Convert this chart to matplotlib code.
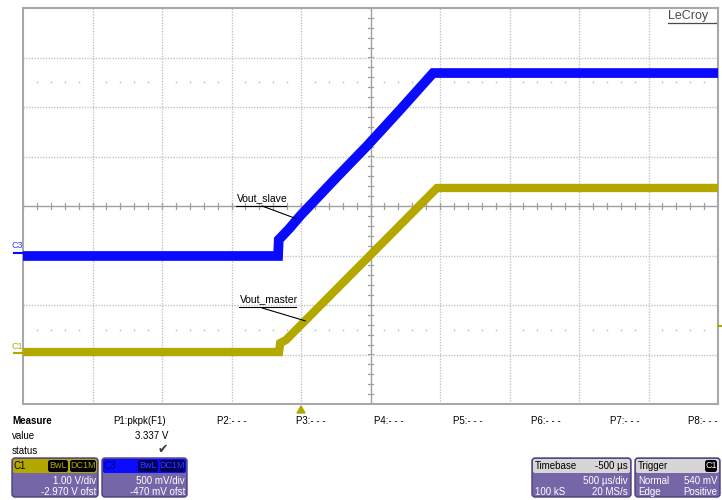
import numpy as np
import matplotlib.pyplot as plt
from matplotlib.patches import FancyBboxPatch, Polygon

plt.rcParams['font.family'] = ['Liberation Sans', 'DejaVu Sans']

# ---- data (time in ms, volts) ----
# C3 = Vout_slave
c3_t = [-2.0, -0.165, -0.160, -0.129, -0.079, -0.007, 0.245, 0.475, 0.712, 0.950, 3.0]
c3_v = [-0.035, -0.035, 0.130, 0.175, 0.250, 0.369, 0.743, 1.077, 1.440, 1.813, 1.813]
# C1 = Vout_master
c1_t = [-2.0, -0.158, -0.150, -0.108, 0.978, 3.0]
c1_v = [0.02, 0.02, 0.200, 0.263, 3.334, 3.334]

# channel / timebase settings
c1_vdiv, c1_ofst = 1.00, -2.970
c3_vdiv, c3_ofst = 0.500, -0.470
t_div, t_delay = 0.5, -0.5          # ms
trig_level = 0.540                   # V on C1

meas_labels = ["P1:pkpk(F1)", "P2:- - -", "P3:- - -", "P4:- - -", "P5:- - -",
               "P6:- - -", "P7:- - -", "P8:- - -"]
meas_value = "3.337 V"

YEL = "#b3a800"
BLU = "#0a0aff"
BOX = "#7566a8"
EDGE = "#4b3f7e"
GRID = "#c4c4c4"
AXC = "#a0a0a0"

fig = plt.figure(figsize=(7.22, 5.0), dpi=100)
ax = fig.add_axes([23 / 722, 96 / 500, 695 / 722, 396 / 500])

# screen center is at -delay, 10 divisions wide
t_center = -t_delay
t_left = t_center - 5 * t_div
t_right = t_center + 5 * t_div
ax.set_xlim(t_left, t_right)
ax.set_ylim(-4, 4)

# grid
for k in range(1, 10):
    tx = t_left + k * t_div
    if k == 5:
        ax.axvline(tx, color=AXC, lw=1.0, zorder=1)
    else:
        ax.axvline(tx, color=GRID, lw=1.0, ls=(0, (1, 1)), zorder=1)
for k in range(-3, 4):
    if k == 0:
        ax.axhline(0, color=AXC, lw=1.0, zorder=1)
    else:
        ax.axhline(k, color=GRID, lw=1.0, ls=(0, (1, 1)), zorder=1)

# ticks on center axes
for tx in np.arange(t_left, t_right + 1e-9, t_div / 5):
    ax.plot([tx, tx], [-0.055, 0.055], color=AXC, lw=0.9, zorder=1)
for dy in np.arange(-4, 4.001, 0.2):
    ax.plot([t_center - 0.018, t_center + 0.018], [dy, dy], color=AXC, lw=0.9, zorder=1)

# minor dot rows
dots_t = [tx for tx in np.arange(t_left, t_right + 1e-9, t_div / 5)
          if abs((tx - t_left) / t_div - round((tx - t_left) / t_div)) > 1e-6]
for row in (2.5, -2.5):
    ax.plot(dots_t, [row] * len(dots_t), ls="none", marker="s", ms=1.1,
            color="#bcbcbc", mec="none", zorder=1)

# traces
c3_y = (np.array(c3_v) + c3_ofst) / c3_vdiv
c1_y = (np.array(c1_v) + c1_ofst) / c1_vdiv
ax.plot(c3_t, c3_y, color=BLU, lw=7.0, solid_joinstyle="miter", zorder=3)
ax.plot(c1_t, c1_y, color=YEL, lw=6.0, solid_joinstyle="miter", zorder=3)

# labels with leader lines
ax.text(-0.462, 0.05, "Vout_slave", fontsize=7.5, ha="left", va="bottom", zorder=5)
ax.plot([-0.467, -0.105], [0, 0], color="black", lw=0.8, zorder=5)
ax.plot([-0.28, -0.03], [0, -0.26], color="black", lw=0.8, zorder=5)
ax.text(-0.440, -1.99, "Vout_master", fontsize=7.5, ha="left", va="bottom", zorder=5)
ax.plot([-0.445, -0.035], [-2.04, -2.04], color="black", lw=0.8, zorder=5)
ax.plot([-0.28, 0.03], [-2.06, -2.32], color="black", lw=0.8, zorder=5)

for s in ax.spines.values():
    s.set_color("#a8a8a8")
    s.set_linewidth(1.5)
ax.set_xticks([])
ax.set_yticks([])

# ---- overlay in pixel coordinates ----
ov = fig.add_axes([0, 0, 1, 1], zorder=5)
ov.set_xlim(0, 722)
ov.set_ylim(500, 0)
ov.axis("off")
ov.patch.set_alpha(0)

ov.text(668, 16, "LeCroy", fontsize=9, color="#4a4a4a", ha="left", va="center")
ov.plot([668, 716], [23, 23], color="#4a4a4a", lw=0.9)

# channel ground markers
c3_gnd = 206 - (0 + c3_ofst) / c3_vdiv * 49.5
c1_gnd = 206 - (0 + c1_ofst) / c1_vdiv * 49.5
ov.text(11, c3_gnd - 7, "C3", fontsize=6.5, color="#3a3aff", ha="left", va="center")
ov.plot([14, 23], [c3_gnd, c3_gnd], color=BLU, lw=1.5)
ov.text(11, c1_gnd - 7, "C1", fontsize=6.5, color=YEL, ha="left", va="center")
ov.plot([14, 23], [c1_gnd, c1_gnd], color=YEL, lw=1.5)

# trigger level marker (right) and trigger position marker (below)
trig_y = 206 - (trig_level + c1_ofst) / c1_vdiv * 49.5
ov.plot([718, 722], [trig_y, trig_y], color=YEL, lw=1.5)
trig_x = 23 + (0 - t_left) / t_div * 69.5
ov.add_patch(Polygon([[trig_x - 4, 413], [trig_x + 4, 413], [trig_x, 406]], color=YEL))

# measure table
ov.text(12, 421, "Measure", fontsize=7, fontweight="bold", va="center")
meas_x = [113, 217, 296, 374, 453, 531, 610, 688]
for mx, lab in zip(meas_x, meas_labels):
    ov.text(mx, 421, lab, fontsize=7, va="center")
ov.text(12, 436, "value", fontsize=7, va="center")
ov.text(168, 436, meas_value, fontsize=7, va="center", ha="right")
ov.text(12, 451, "status", fontsize=7, va="center")
ov.text(163, 450, "\u2714", fontsize=9, va="center", ha="center", color="#383838",
        family="DejaVu Sans")


def info_box(x0, x1, head_color, head_items, body_rows):
    ov.add_patch(FancyBboxPatch((x0, 458), x1 - x0, 39,
                                boxstyle="round,pad=0,rounding_size=3",
                                fc=BOX, ec=EDGE, lw=1.0))
    ov.add_patch(FancyBboxPatch((x0 + 1, 459), x1 - x0 - 2, 14,
                                boxstyle="round,pad=0,rounding_size=2",
                                fc=head_color, ec="none"))
    for it in head_items:
        it()
    for (txt, xx, yy, ha) in body_rows:
        ov.text(xx, yy, txt, fontsize=7, color="white", ha=ha, va="center")


def badge(x0, x1, fc, tc, txt):
    ov.add_patch(FancyBboxPatch((x0, 460), x1 - x0, 12,
                                boxstyle="round,pad=0,rounding_size=2.5",
                                fc=fc, ec="none"))
    ov.text((x0 + x1) / 2, 466, txt, fontsize=6.5, color=tc, ha="center", va="center")


info_box(12, 98, YEL,
         [lambda: ov.text(14, 466, "C1", fontsize=7, color="black", va="center"),
          lambda: badge(48, 68, "black", YEL, "BwL"),
          lambda: badge(70, 96, "black", YEL, "DC1M")],
         [("1.00 V/div", 96, 481, "right"), ("-2.970 V ofst", 96, 492, "right")])
info_box(102, 187, BLU,
         [lambda: ov.text(104, 466, "C3", fontsize=7, color="#000070", va="center"),
          lambda: badge(138, 158, "#000060", "#3a3aff", "BwL"),
          lambda: badge(160, 185, "#000060", "#3a3aff", "DC1M")],
         [("500 mV/div", 185, 481, "right"), ("-470 mV ofst", 185, 492, "right")])
info_box(532, 631, "#d6d6d6",
         [lambda: ov.text(535, 466, "Timebase", fontsize=7, color="black", va="center"),
          lambda: ov.text(628, 466, "-500 \u00b5s", fontsize=7, color="black",
                          va="center", ha="right")],
         [("500 \u00b5s/div", 628, 481, "right"), ("100 kS", 535, 492, "left"),
          ("20 MS/s", 628, 492, "right")])
info_box(635, 720, "#d6d6d6",
         [lambda: ov.text(638, 466, "Trigger", fontsize=7, color="black", va="center"),
          lambda: badge(705, 717, "black", "white", "C1")],
         [("Normal", 638, 481, "left"), ("540 mV", 717, 481, "right"),
          ("Edge", 638, 492, "left"), ("Positive", 717, 492, "right")])

fig.savefig("out.png", dpi=100)
